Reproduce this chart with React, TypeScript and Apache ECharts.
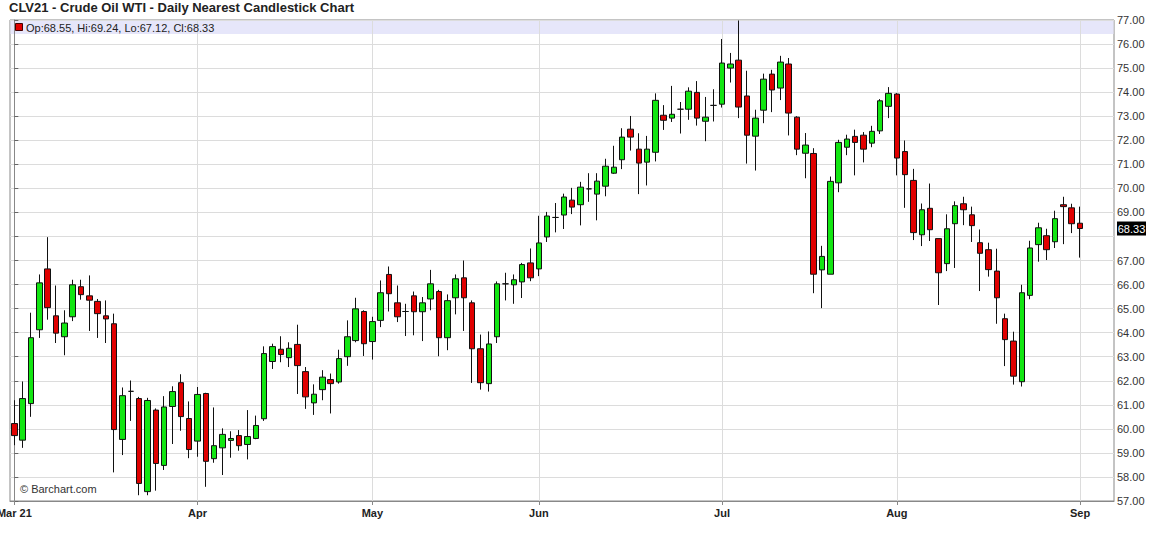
import React, { useEffect, useRef } from 'react';
import * as echarts from 'echarts';

// Daily OHLC, CLV21 (trading days from early March to 1 Sep 2021)
const opens = [
  60.22, 59.53, 61.05, 64.12, 66.65, 64.70, 63.83, 64.66, 65.91, 65.53,
  65.30, 64.70, 64.37, 59.56, 61.56, 61.26, 57.39, 60.78, 58.48, 60.93,
  61.92, 60.43, 59.49, 61.47, 58.76, 59.21, 59.52, 59.72, 59.35, 59.60,
  60.42, 62.80, 63.31, 62.96, 63.51, 62.38, 61.08, 61.63, 62.05, 61.95,
  63.00, 63.67, 64.88, 63.63, 64.51, 66.42, 65.24, 64.88, 65.53, 64.87,
  65.40, 65.71, 63.79, 65.45, 66.28, 65.24, 63.33, 61.88, 63.83, 66.03,
  65.99, 66.11, 66.90, 66.65, 67.98, 68.79, 68.89, 69.51, 69.32, 69.98,
  69.76, 70.09, 70.63, 71.19, 72.46, 71.63, 71.09, 71.50, 73.04, 72.92,
  73.29, 73.29, 73.99, 72.79, 73.45, 73.50, 75.00, 75.33, 73.84, 72.17,
  73.25, 74.75, 74.17, 75.17, 72.96, 71.46, 71.45, 66.61, 66.43, 70.23,
  71.71, 72.16, 72.21, 71.88, 72.39, 73.41, 73.92, 71.53, 70.33, 68.07,
  69.17, 67.91, 66.87, 68.53, 69.36, 68.90, 67.74, 67.45, 66.56, 64.58,
  63.65, 61.96, 65.55, 67.66, 68.03, 67.78, 69.32, 69.19, 68.55,
];
const highs = [
  61.19, 61.97, 64.83, 66.42, 67.97, 65.96, 64.93, 66.20, 66.20, 66.38,
  65.40, 65.34, 64.79, 61.72, 62.01, 61.33, 61.29, 60.85, 61.36, 61.77,
  62.27, 61.14, 61.74, 61.50, 60.89, 60.02, 59.90, 59.95, 60.78, 60.55,
  63.43, 63.54, 63.85, 63.60, 64.33, 62.57, 61.85, 62.44, 62.30, 63.29,
  64.51, 65.45, 64.93, 64.66, 66.17, 66.75, 65.96, 65.20, 65.71, 65.48,
  66.61, 65.78, 65.59, 66.42, 67.00, 65.34, 63.92, 64.05, 66.13, 66.49,
  66.42, 66.90, 67.50, 68.86, 69.02, 69.39, 69.78, 70.02, 70.27, 70.63,
  70.63, 71.23, 71.77, 72.50, 73.01, 72.29, 72.18, 73.95, 73.46, 74.26,
  73.59, 74.20, 74.46, 73.80, 74.12, 76.21, 75.63, 76.98, 74.89, 73.27,
  74.77, 74.93, 75.51, 75.42, 73.00, 72.30, 71.67, 67.61, 70.49, 72.02,
  72.23, 72.44, 72.34, 72.60, 73.71, 74.21, 73.96, 71.99, 70.81, 69.37,
  70.20, 67.91, 68.92, 69.46, 69.65, 69.24, 68.29, 67.74, 67.49, 64.79,
  64.04, 65.99, 67.82, 68.57, 68.32, 69.07, 69.65, 69.36, 69.24,
];
const lows = [
  59.32, 59.21, 60.50, 63.78, 64.54, 63.57, 63.06, 64.48, 65.37, 64.07,
  63.78, 63.57, 58.19, 58.91, 60.33, 57.24, 57.24, 57.43, 58.29, 59.37,
  59.92, 58.78, 58.84, 57.59, 58.59, 58.08, 58.80, 59.09, 58.73, 59.57,
  60.33, 62.49, 62.77, 62.57, 61.45, 60.83, 60.58, 61.19, 60.64, 61.88,
  62.62, 63.60, 63.03, 62.88, 64.23, 64.88, 64.44, 63.86, 63.89, 63.65,
  64.93, 63.02, 63.27, 64.76, 64.07, 61.91, 61.63, 61.55, 63.57, 65.34,
  65.20, 65.44, 66.14, 66.35, 67.77, 68.17, 68.31, 68.93, 68.46, 69.44,
  68.67, 69.67, 70.60, 70.80, 71.57, 69.76, 70.12, 71.12, 72.43, 72.76,
  72.28, 72.85, 72.61, 71.96, 72.78, 73.36, 74.40, 72.92, 71.03, 70.74,
  72.71, 73.17, 73.67, 72.20, 71.38, 70.42, 65.64, 65.02, 66.43, 69.84,
  71.38, 70.54, 71.08, 71.71, 72.26, 72.92, 70.54, 69.19, 67.85, 67.60,
  67.81, 65.15, 66.56, 66.69, 68.47, 67.77, 65.73, 66.33, 64.37, 62.61,
  61.84, 61.76, 65.39, 66.95, 67.02, 67.52, 67.68, 68.14, 67.12,
];
const closes = [
  59.72, 61.26, 63.79, 66.07, 65.04, 63.98, 64.40, 65.99, 65.58, 65.35,
  64.79, 64.57, 59.97, 61.38, 61.56, 57.73, 61.18, 58.56, 60.91, 61.55,
  60.51, 59.14, 61.43, 58.65, 59.30, 59.77, 59.60, 59.30, 59.68, 60.14,
  63.13, 63.42, 63.09, 63.35, 62.63, 61.33, 61.44, 62.15, 61.88, 62.92,
  63.83, 64.99, 63.54, 64.46, 65.66, 65.62, 64.66, 64.88, 64.87, 65.24,
  66.03, 63.79, 65.33, 66.24, 65.45, 63.33, 61.92, 63.53, 66.03, 66.03,
  66.20, 66.83, 66.28, 67.73, 68.85, 68.79, 69.64, 69.22, 70.05, 69.98,
  70.30, 70.92, 70.88, 72.13, 72.13, 71.05, 71.63, 73.66, 72.83, 73.08,
  73.29, 74.04, 72.92, 72.96, 73.45, 75.21, 75.17, 73.38, 72.21, 72.92,
  74.54, 74.09, 75.25, 73.13, 71.63, 71.80, 66.43, 67.17, 70.29, 71.91,
  72.05, 71.91, 71.63, 72.37, 73.64, 73.95, 71.26, 70.57, 68.16, 69.11,
  68.28, 66.49, 68.32, 69.28, 69.11, 68.45, 67.30, 66.62, 65.45, 63.71,
  62.19, 65.66, 67.52, 68.36, 67.45, 68.74, 69.24, 68.53, 68.33,
];

const monthTickIndex = [0, 22, 43, 63, 85, 106, 128];
const monthTickLabels = ['Mar 21', 'Apr', 'May', 'Jun', 'Jul', 'Aug', 'Sep'];
const priceMin = 57;
const priceMax = 77;
const priceStep = 1;

const FONT = "'Liberation Sans', Arial, sans-serif";

export default function App() {
  const ref = useRef<HTMLDivElement>(null);

  useEffect(() => {
    document.body.style.margin = '0';
    const chart = echarts.init(ref.current as HTMLDivElement, null, { renderer: 'svg' });
    const data = opens.map((o, i) => [i, o, closes[i], lows[i], highs[i]]);
    const last = opens.length - 1;
    const lastClose = closes[last];
    const header = `Op:${opens[last].toFixed(2)}, Hi:${highs[last].toFixed(2)}, Lo:${lows[last].toFixed(2)}, Cl:${lastClose.toFixed(2)}`;

    chart.setOption({
      animation: false,
      backgroundColor: '#ffffff',
      textStyle: { fontFamily: FONT },
      title: {
        text: 'CLV21 - Crude Oil WTI - Daily Nearest Candlestick Chart',
        left: 9,
        top: 1,
        padding: 0,
        textStyle: { fontSize: 13, fontWeight: 'bold', color: '#222', fontFamily: FONT },
      },
      grid: {
        left: 10,
        right: 42,
        top: 20,
        bottom: 41,
        show: true,
        borderColor: '#888',
        borderWidth: 1,
        containLabel: false,
        outerBoundsMode: 'none',
      },
      xAxis: {
        type: 'value',
        min: -0.52,
        max: 132.08,
        position: 'bottom',
        axisLine: { show: true, lineStyle: { color: '#888' } },
        axisTick: { show: true, customValues: monthTickIndex, length: 4, lineStyle: { color: '#888' } },
        axisLabel: {
          customValues: monthTickIndex,
          formatter: (v: number) => {
            const k = monthTickIndex.indexOf(Math.round(v));
            return k >= 0 ? monthTickLabels[k] : '';
          },
          fontWeight: 'bold',
          fontSize: 11,
          color: '#222',
          margin: 6,
          fontFamily: FONT,
        },
        splitLine: { show: false },
      },
      yAxis: {
        type: 'value',
        position: 'right',
        min: priceMin,
        max: priceMax,
        interval: priceStep,
        axisLine: { show: true, lineStyle: { color: '#888' } },
        axisTick: { show: true, length: 4, lineStyle: { color: '#666' } },
        axisLabel: {
          formatter: (v: number) => (Math.abs(v - lastClose) < 0.5 ? '' : v.toFixed(2)),
          fontSize: 11,
          color: '#333',
          margin: 3,
          fontFamily: FONT,
        },
        splitLine: { show: true, lineStyle: { color: '#dcdcdc' } },
      },
      series: [
        {
          type: 'line',
          data: [],
          z: 1,
          markLine: {
            silent: true,
            symbol: 'none',
            z: 1,
            label: { show: false },
            lineStyle: { color: '#dcdcdc', type: 'solid', width: 1 },
            data: monthTickIndex.slice(1).map((v) => ({ xAxis: v })),
          },
        },
        {
          type: 'candlestick',
          z: 3,
          barWidth: 6,
          data,
          itemStyle: {
            color: '#12e612',
            color0: '#e00000',
            borderColor: '#111',
            borderColor0: '#111',
            borderWidth: 1,
          },
        },
      ],
      graphic: [
        {
          id: 'band',
          type: 'rect',
          z: 0,
          silent: true,
          shape: { x: 10.5, y: 21, width: 1103, height: 13 },
          style: { fill: '#e6e6fa' },
        },
        {
          id: 'sq',
          type: 'rect',
          z: 5,
          shape: { x: 15.5, y: 23.5, width: 7, height: 7 },
          style: { fill: '#e00000', stroke: '#400', lineWidth: 1 },
        },
        {
          id: 'hdr',
          type: 'text',
          z: 5,
          x: 26,
          y: 27.5,
          style: { text: header, fill: '#222', font: `11px ${FONT}`, verticalAlign: 'middle' },
        },
        {
          id: 'wm',
          type: 'text',
          z: 5,
          x: 20,
          y: 489,
          style: { text: '\u00a9 Barchart.com', fill: '#333', font: `11px ${FONT}`, verticalAlign: 'middle' },
        },
      ],
    });

    const py = chart.convertToPixel({ yAxisIndex: 0 }, lastClose) as number;
    chart.setOption({
      graphic: [
        {
          id: 'pxbox',
          type: 'rect',
          z: 10,
          shape: { x: 1117, y: py - 7, width: 29, height: 14 },
          style: { fill: '#000' },
        },
        {
          id: 'pxtxt',
          type: 'text',
          z: 11,
          x: 1131.5,
          y: py,
          style: {
            text: lastClose.toFixed(2),
            fill: '#fff',
            font: `11px ${FONT}`,
            align: 'center',
            verticalAlign: 'middle',
          },
        },
      ],
    });

    return () => chart.dispose();
  }, []);

  return <div ref={ref} style={{ width: 1156, height: 542 }} />;
}
